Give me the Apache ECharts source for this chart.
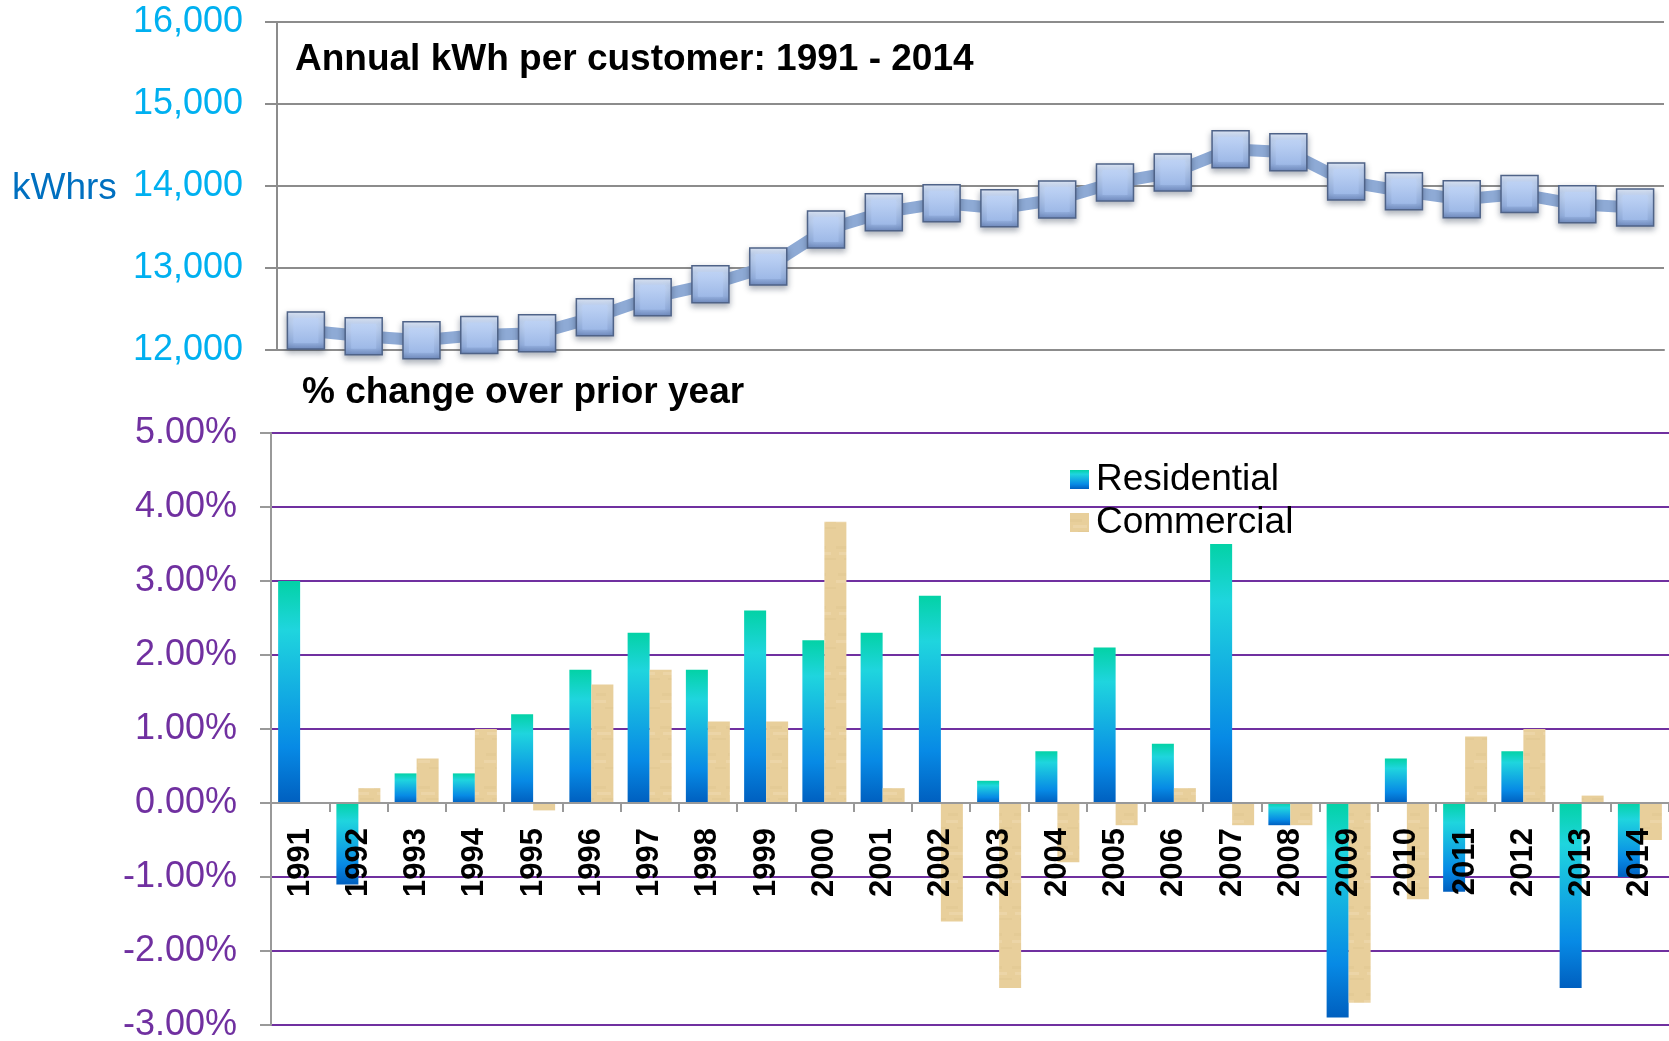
<!DOCTYPE html>
<html>
<head>
<meta charset="utf-8">
<title>Annual kWh per customer: 1991 - 2014</title>
<script src="https://cdn.jsdelivr.net/npm/echarts@6/dist/echarts.min.js"></script>
<style>
  html, body { margin: 0; padding: 0; background: #fff; }
  #chart { width: 1669px; height: 1041px; }
</style>
</head>
<body>
<div id="chart"></div>
<script>
/* ---------------- Data ---------------- */
const years = ["1991", "1992", "1993", "1994", "1995", "1996", "1997", "1998",
  "1999", "2000", "2001", "2002", "2003", "2004", "2005", "2006", "2007",
  "2008", "2009", "2010", "2011", "2012", "2013", "2014"];

// annual kWh per customer (top panel)
const kwhPerCustomer = [12237, 12168, 12118, 12183, 12203, 12400, 12644, 12801,
  13018, 13470, 13681, 13791, 13728, 13835, 14043, 14165, 14447, 14411,
  14055, 13935, 13837, 13902, 13776, 13738];

// % change over prior year (bottom panel)
const residentialPct = [3.0, -1.1, 0.4, 0.4, 1.2, 1.8, 2.3, 1.8, 2.6, 2.2, 2.3,
  2.8, 0.3, 0.7, 2.1, 0.8, 3.5, -0.3, -2.9, 0.6, -1.2, 0.7, -2.5, -1.0];
const commercialPct = [null, 0.2, 0.6, 1.0, -0.1, 1.6, 1.8, 1.1, 1.1, 3.8, 0.2,
  -1.6, -2.5, -0.8, -0.3, 0.2, -0.3, -0.3, -2.7, -1.3, 0.9, 1.0, 0.1, -0.5];

/* ---------------- Styles ---------------- */
const FONT = '"Liberation Sans", Arial, Helvetica, sans-serif';
const GRAY = "#8c8c8c";
const PURPLE = "#7030a0";

// outer part of the beveled square markers
const markerOuter = new echarts.graphic.LinearGradient(0, 0, 0, 1, [
  { offset: 0, color: "#e6eefc" },
  { offset: 0.2, color: "#c4d7f5" },
  { offset: 0.8, color: "#96b1df" },
  { offset: 1, color: "#6f8abd" }
]);
// inner face of the markers
const markerInner = new echarts.graphic.LinearGradient(0, 0, 0, 1, [
  { offset: 0, color: "#bdd2f5" },
  { offset: 1, color: "#a0bbe9" }
]);

const residentialColor = new echarts.graphic.LinearGradient(0, 0, 0, 1, [
  { offset: 0, color: "#03d2a6" },
  { offset: 0.22, color: "#1fd5de" },
  { offset: 0.5, color: "#13ade2" },
  { offset: 0.75, color: "#078ae5" },
  { offset: 1, color: "#005fbf" }
]);

// light parchment texture for the commercial bars
const tex = document.createElement("canvas");
tex.width = 22;
tex.height = 60;
const tctx = tex.getContext("2d");
tctx.fillStyle = "#e8cf9b";
tctx.fillRect(0, 0, 22, 60);
tctx.fillStyle = "rgba(190,150,80,0.07)";
[[0, 6, 12, 3], [8, 18, 14, 2], [2, 33, 10, 3], [11, 47, 11, 2]].forEach(r => tctx.fillRect(...r));
tctx.fillStyle = "rgba(255,245,220,0.18)";
[[3, 12, 14, 3], [0, 40, 12, 3]].forEach(r => tctx.fillRect(...r));
const commercialColor = { image: tex, repeat: "repeat" };

/* ---------------- Chart ---------------- */
const chartInstance = echarts.init(document.getElementById("chart"));

const option = {
  backgroundColor: "#fff",
  animation: false,
  textStyle: { fontFamily: FONT },
  title: [
    {
      text: "Annual kWh per customer: 1991 - 2014",
      left: 295, top: 41, padding: 0,
      textStyle: { fontFamily: FONT, fontSize: 37, fontWeight: "bold", color: "#000" }
    },
    {
      text: "% change over prior year",
      left: 302, top: 374, padding: 0,
      textStyle: { fontFamily: FONT, fontSize: 37, fontWeight: "bold", color: "#000" }
    },
    {
      text: "kWhrs",
      left: 12, top: 170, padding: 0,
      textStyle: { fontFamily: FONT, fontSize: 37, fontWeight: "normal", color: "#0070c0" }
    }
  ],
  legend: {
    data: ["Residential", "Commercial"],
    orient: "vertical",
    left: 1070, top: 461,
    padding: 0,
    itemWidth: 19, itemHeight: 19, itemGap: 6,
    icon: "rect",
    textStyle: { fontFamily: FONT, fontSize: 37, color: "#000", padding: [0, 0, 0, 2] }
  },
  grid: [
    { left: 277, top: 22, width: 1387, height: 328, outerBoundsMode: "none", containLabel: false },
    { left: 271, top: 433, width: 1398, height: 592, outerBoundsMode: "none", containLabel: false }
  ],
  xAxis: [
    {
      gridIndex: 0, type: "category", data: years, boundaryGap: true,
      axisLine: { lineStyle: { color: GRAY, width: 2 } },
      axisTick: { show: false }, axisLabel: { show: false }
    },
    {
      gridIndex: 1, type: "category", data: years, boundaryGap: true, z: 10,
      axisLine: { onZero: true, lineStyle: { color: "#999", width: 2 } },
      axisTick: { show: true, interval: 0, length: 9, lineStyle: { color: "#999", width: 2 } },
      axisLabel: { show: false }
    },
    {
      // year labels hanging just under the 0% line
      gridIndex: 1, type: "category", data: years, boundaryGap: true, z: 11,
      position: "bottom", offset: -222,
      axisLine: { show: false, onZero: false },
      axisTick: { show: false },
      axisLabel: {
        interval: 0, rotate: 90, margin: 25,
        fontFamily: FONT, fontSize: 31, fontWeight: "bold", color: "#000"
      }
    }
  ],
  yAxis: [
    {
      gridIndex: 0, type: "value", min: 12000, max: 16000, interval: 1000,
      axisLine: { show: true, lineStyle: { color: GRAY, width: 2 } },
      axisTick: { show: true, length: 12, lineStyle: { color: GRAY, width: 2 } },
      axisLabel: {
        margin: 34, fontFamily: FONT, fontSize: 36, color: "#00b0f0",
        formatter: v => v.toLocaleString("en-US")
      },
      splitLine: { lineStyle: { color: GRAY, width: 2 } }
    },
    {
      gridIndex: 1, type: "value", min: -3, max: 5, interval: 1,
      axisLine: { show: true, lineStyle: { color: "#999", width: 2 } },
      axisTick: { show: true, length: 11, lineStyle: { color: "#999", width: 2 } },
      axisLabel: {
        margin: 34, fontFamily: FONT, fontSize: 36, color: PURPLE,
        formatter: v => v.toFixed(2) + "%"
      },
      splitLine: { lineStyle: { color: PURPLE, width: 2 } }
    }
  ],
  series: [
    {
      name: "kWh per customer", type: "line",
      xAxisIndex: 0, yAxisIndex: 0,
      data: kwhPerCustomer,
      symbol: "rect", symbolSize: 37,
      lineStyle: { color: "#8eaad5", width: 12 },
      itemStyle: {
        color: markerOuter, borderColor: "#4f6388", borderWidth: 1.5,
        shadowBlur: 6, shadowOffsetY: 3, shadowColor: "rgba(20,35,60,0.35)"
      },
      z: 3
    },
    {
      // inner face of the same markers
      name: "kWh face", type: "scatter",
      xAxisIndex: 0, yAxisIndex: 0,
      data: kwhPerCustomer,
      symbol: "rect", symbolSize: 25,
      itemStyle: { color: markerInner },
      silent: true,
      z: 4
    },
    {
      name: "Residential", type: "bar",
      xAxisIndex: 1, yAxisIndex: 1,
      data: residentialPct,
      barWidth: 22, barGap: "0%",
      itemStyle: { color: residentialColor }
    },
    {
      name: "Commercial", type: "bar",
      xAxisIndex: 1, yAxisIndex: 1,
      data: commercialPct,
      barWidth: 22, barGap: "0%",
      itemStyle: { color: commercialColor }
    }
  ]
};

chartInstance.setOption(option);
window.addEventListener("resize", () => chartInstance.resize());
</script>
</body>
</html>
